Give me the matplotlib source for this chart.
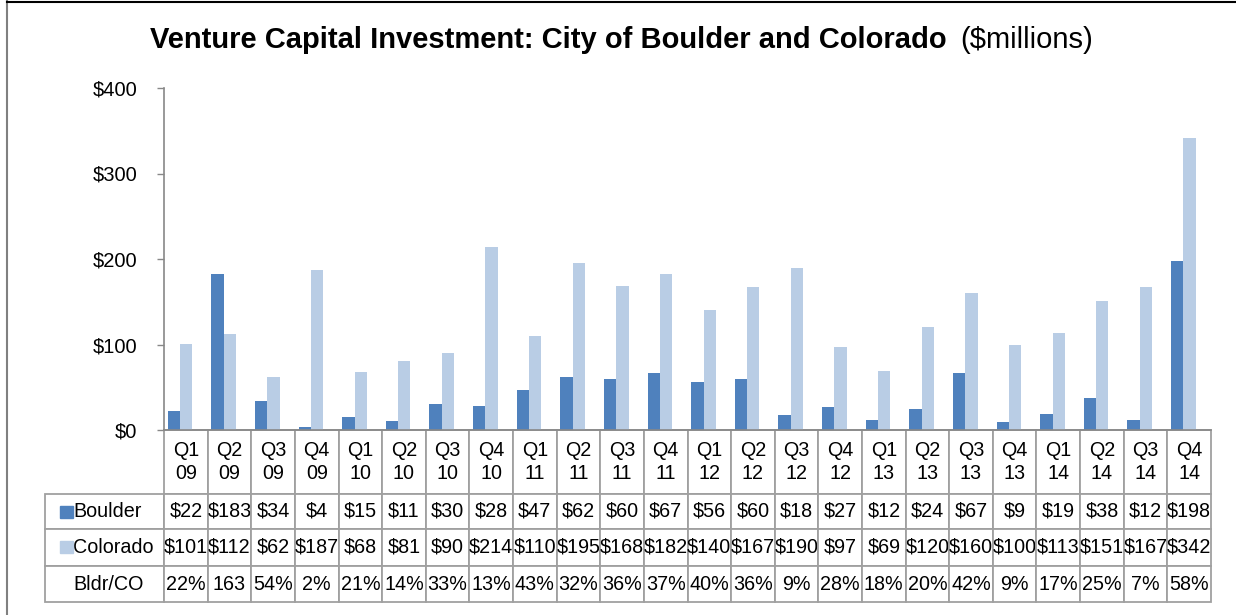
import matplotlib
matplotlib.use('Agg')
import matplotlib.pyplot as plt
from matplotlib.lines import Line2D
from matplotlib.patches import Rectangle

quarters = ['Q1\n09', 'Q2\n09', 'Q3\n09', 'Q4\n09', 'Q1\n10', 'Q2\n10', 'Q3\n10', 'Q4\n10',
            'Q1\n11', 'Q2\n11', 'Q3\n11', 'Q4\n11', 'Q1\n12', 'Q2\n12', 'Q3\n12', 'Q4\n12',
            'Q1\n13', 'Q2\n13', 'Q3\n13', 'Q4\n13', 'Q1\n14', 'Q2\n14', 'Q3\n14', 'Q4\n14']
boulder = [22, 183, 34, 4, 15, 11, 30, 28, 47, 62, 60, 67, 56, 60, 18, 27, 12, 24, 67, 9, 19, 38, 12, 198]
colorado = [101, 112, 62, 187, 68, 81, 90, 214, 110, 195, 168, 182, 140, 167, 190, 97, 69, 120,
            160, 100, 113, 151, 167, 342]
ratio = ['22%', '163', '54%', '2%', '21%', '14%', '33%', '13%', '43%', '32%', '36%', '37%',
         '40%', '36%', '9%', '28%', '18%', '20%', '42%', '9%', '17%', '25%', '7%', '58%']
row_labels = ['Boulder', 'Colorado', 'Bldr/CO']
yticks = [0, 100, 200, 300, 400]

c_boulder = '#4F81BD'
c_colorado = '#B9CDE5'
grid_gray = '#A0A0A0'

plt.rcParams['font.family'] = ['Liberation Sans', 'DejaVu Sans']

fig = plt.figure(figsize=(12.36, 6.15), dpi=100)
ax_w, ax_h = 1047, 342  # plot area size in px
ax = fig.add_axes([164 / 1236, 185 / 615, ax_w / 1236, ax_h / 615])

x = range(len(quarters))
ax.bar([i - 0.415 for i in x], boulder, width=0.282, align='edge', color=c_boulder, label='Boulder')
ax.bar([i - 0.133 for i in x], colorado, width=0.282, align='edge', color=c_colorado, label='Colorado')

ax.set_xlim(-0.5, len(quarters) - 0.5)
ax.set_ylim(0, 400)
ax.set_yticks(yticks)
ax.set_yticklabels([f'${v}' for v in yticks], fontsize=14.5)
ax.tick_params(axis='y', direction='out', length=5, width=1, color='#888888', pad=14)
ax.set_xticks([])
for s in ['top', 'right']:
    ax.spines[s].set_visible(False)
for s in ['left', 'bottom']:
    ax.spines[s].set_color('#888888')
    ax.spines[s].set_linewidth(1.2)

# data table under the plot, sizes given in axes units so the bbox does not rescale
cell_text = [[f'${v}' for v in boulder], [f'${v}' for v in colorado], ratio]
tbl = ax.table(cellText=cell_text, rowLabels=row_labels, colLabels=quarters,
               cellLoc='center', rowLoc='left',
               bbox=[0, -172 / ax_h, 1, 172 / ax_h])
tbl.auto_set_font_size(False)
heights = {0: 64, 1: 35, 2: 37, 3: 36}
for (r, c), cell in tbl.get_celld().items():
    cell.set_edgecolor(grid_gray)
    cell.set_linewidth(1.3)
    cell.set_height(heights[r] / ax_h)
    cell.set_width(113 / ax_w if c == -1 else 1 / len(quarters))
    t = cell.get_text()
    t.set_fontsize(14.2)
    if r == 0:
        t.set_linespacing(1.3)
    if c == -1:
        cell.PAD = 0.24

# legend keys in the row label column
fig.patches.append(Rectangle((60 / 1236, 97 / 615), 13 / 1236, 12 / 615,
                             transform=fig.transFigure, color=c_boulder))
fig.patches.append(Rectangle((60 / 1236, 62 / 615), 13 / 1236, 12 / 615,
                             transform=fig.transFigure, color=c_colorado))

fig.text(150 / 1236, (615 - 48) / 615, 'Venture Capital Investment: City of Boulder and Colorado',
         fontsize=21, fontweight='bold', va='baseline', ha='left')
fig.text(960 / 1236, (615 - 48) / 615, '($millions)', fontsize=21, va='baseline', ha='left')

# chart border
fig.add_artist(Line2D([7 / 1236, 7 / 1236], [0, 1], transform=fig.transFigure, color='#808080', lw=1.5))
fig.add_artist(Line2D([7 / 1236, 1], [1 - 1.5 / 615, 1 - 1.5 / 615], transform=fig.transFigure,
                      color='black', lw=1.5))

fig.savefig('out.png', dpi=100)
